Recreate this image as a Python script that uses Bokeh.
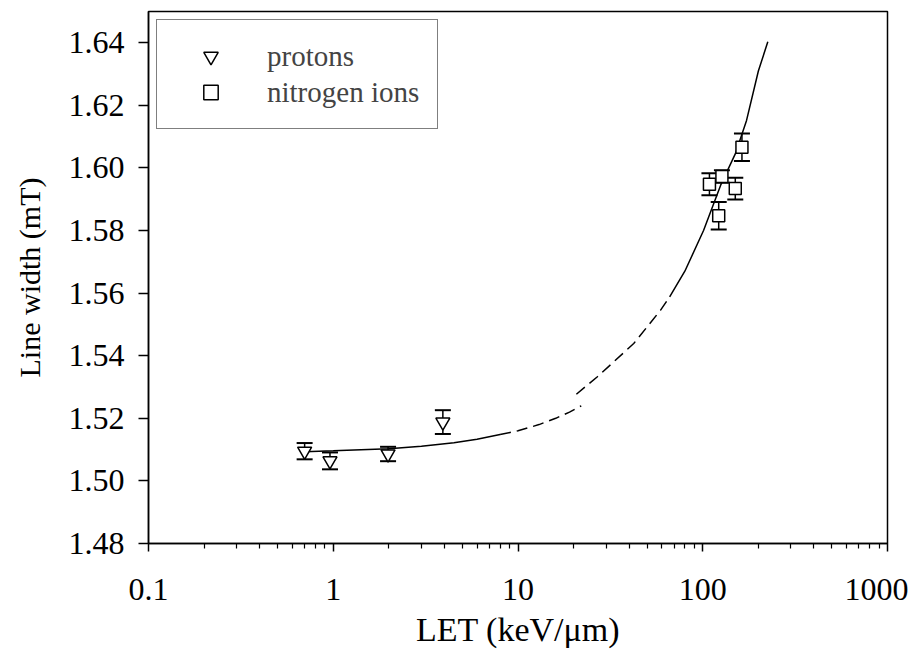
from bokeh.plotting import figure
from bokeh.models import (ColumnDataSource, Whisker, TeeHead, FixedTicker,
                          CustomJSTickFormatter, NumeralTickFormatter, Range1d,
                          Legend, LegendItem)
from bokeh.embed import file_html
from bokeh.resources import INLINE

# ---- data ----
proton_let = [0.70, 0.96, 1.98, 3.92]
proton_width = [1.5095, 1.5064, 1.5086, 1.5188]
proton_err = [0.0026, 0.0027, 0.0023, 0.0038]

nitrogen_let = [108.7, 122.0, 127.0, 150.0, 163.0]
nitrogen_width = [1.5948, 1.5847, 1.5973, 1.5934, 1.6066]
nitrogen_err = [0.0035, 0.0044, 0.0020, 0.0035, 0.0044]

low_fit_solid_let = [0.70, 1.0, 2.0, 3.0, 4.5, 6.0, 8.0]
low_fit_solid_val = [1.5093, 1.5096, 1.5103, 1.5111, 1.5122, 1.5133, 1.5148]
low_fit_dash_let = [8.0, 10.0, 13.0, 16.0, 19.0, 22.0]
low_fit_dash_val = [1.5148, 1.5160, 1.5180, 1.5200, 1.5220, 1.5240]

high_fit_dash_let = [20.7, 26.8, 42.3, 59.0, 66.2]
high_fit_dash_val = [1.5277, 1.5332, 1.5439, 1.5545, 1.5588]
high_fit_solid_let = [66.2, 80.0, 101.0, 125.0, 150.0, 172.6, 200.0, 225.0]
high_fit_solid_val = [1.5588, 1.5670, 1.5800, 1.5945, 1.6045, 1.6152, 1.6310, 1.6403]

x_ticks = [0.1, 1, 10, 100, 1000]
y_ticks = [1.48, 1.50, 1.52, 1.54, 1.56, 1.58, 1.60, 1.62, 1.64]

FONT = "'Liberation Serif'"

p = figure(width=908, height=652, x_axis_type="log",
           x_range=Range1d(0.1, 1000), y_range=Range1d(1.48, 1.65),
           output_backend="svg", toolbar_location=None,
           min_border_left=148, min_border_right=21, min_border_top=11,
           min_border_bottom=109)
p.grid.visible = False
p.outline_line_color = "black"
p.outline_line_width = 1.5
p.background_fill_color = "white"
p.border_fill_color = "white"

# fit curves
p.line(low_fit_solid_let, low_fit_solid_val, line_color="black", line_width=1.5)
p.line(low_fit_dash_let, low_fit_dash_val, line_color="black", line_width=1.5,
       line_dash="11 6")
p.line(high_fit_dash_let, high_fit_dash_val, line_color="black", line_width=1.5,
       line_dash="11 6")
p.line(high_fit_solid_let, high_fit_solid_val, line_color="black", line_width=1.5)

# error bars
psrc = ColumnDataSource(dict(x=proton_let, y=proton_width,
                             lo=[v - e for v, e in zip(proton_width, proton_err)],
                             hi=[v + e for v, e in zip(proton_width, proton_err)]))
nsrc = ColumnDataSource(dict(x=nitrogen_let, y=nitrogen_width,
                             lo=[v - e for v, e in zip(nitrogen_width, nitrogen_err)],
                             hi=[v + e for v, e in zip(nitrogen_width, nitrogen_err)]))
for src in (psrc, nsrc):
    w = Whisker(base="x", lower="lo", upper="hi", source=src,
                line_color="black", line_width=1.5,
                upper_head=TeeHead(size=16, line_color="black", line_width=2),
                lower_head=TeeHead(size=16, line_color="black", line_width=2))
    p.add_layout(w)

r_p = p.scatter("x", "y", source=psrc, marker="inverted_triangle", size=14,
                fill_color="white", line_color="black", line_width=1.5)
r_n = p.scatter("x", "y", source=nsrc, marker="square", size=12,
                fill_color="white", line_color="black", line_width=1.5)

legend = Legend(items=[LegendItem(label="protons", renderers=[r_p]),
                       LegendItem(label="nitrogen ions", renderers=[r_n])],
                location="top_left", label_text_font=FONT,
                label_text_font_size="29px", border_line_color="black",
                border_line_width=1, padding=18, spacing=0, margin=8,
                glyph_width=71, label_standoff=21, glyph_height=36,
                label_height=36, background_fill_alpha=1)
p.add_layout(legend)

# axes
p.xaxis.ticker = FixedTicker(ticks=x_ticks,
                             minor_ticks=[m * d for d in [0.1, 1, 10, 100] for m in range(2, 10)])
p.xaxis.formatter = CustomJSTickFormatter(code="return String(tick)")
p.yaxis.ticker = FixedTicker(ticks=y_ticks)
p.yaxis.formatter = NumeralTickFormatter(format="0.00")
p.yaxis.minor_tick_line_color = None

for ax in (p.xaxis, p.yaxis):
    ax.axis_line_color = "black"
    ax.axis_line_width = 1.5
    ax.major_tick_line_color = "black"
    ax.major_tick_line_width = 1.5
    ax.major_tick_in = 0
    ax.major_label_text_font = FONT
    ax.major_label_text_font_size = "32px"
    ax.major_label_text_color = "black"
    ax.axis_label_text_font = FONT
    ax.axis_label_text_font_style = "normal"
    ax.axis_label_text_color = "black"

p.xaxis.axis_label_text_font_size = "34px"
p.yaxis.axis_label_text_font_size = "30px"
p.xaxis.major_tick_out = 8
p.xaxis.minor_tick_out = 5
p.xaxis.minor_tick_in = 0
p.xaxis.minor_tick_line_color = "black"
p.xaxis.minor_tick_line_width = 1.2
p.yaxis.major_tick_out = 10
p.xaxis.major_label_standoff = 27
p.yaxis.major_label_standoff = 14
p.xaxis.axis_label = "LET (keV/\u03bcm)"
p.yaxis.axis_label = "Line width (mT)"
p.xaxis.axis_label_standoff = 8
p.yaxis.axis_label_standoff = 20

open("out.html", "w").write(file_html(p, INLINE))
